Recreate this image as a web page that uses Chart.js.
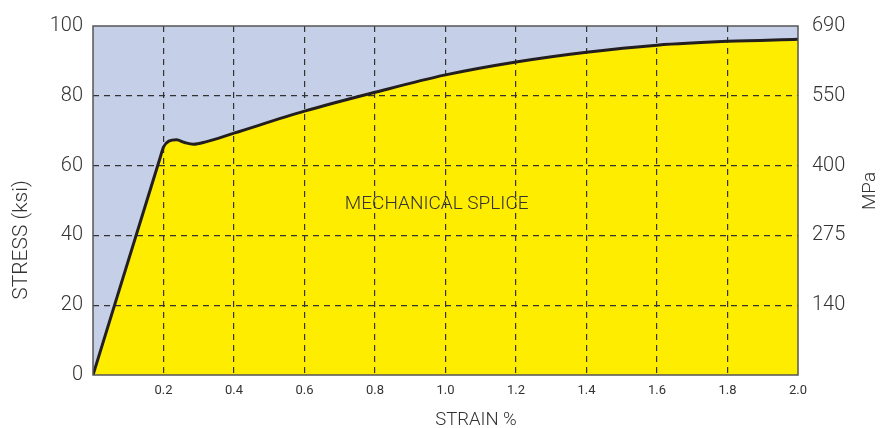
<!DOCTYPE html>
<html>
<head>
<meta charset="utf-8">
<script src="https://cdn.jsdelivr.net/npm/chart.js@4/dist/chart.umd.min.js"></script>
<style>
  html, body { margin: 0; padding: 0; background: #fff; }
  #wrap { width: 881px; height: 428px; }
</style>
</head>
<body>
<div id="wrap"><canvas id="chart_splice" width="881" height="428"></canvas></div>
<script>
// strain (%) and stress (ksi)
const strain = [0, 0.19, 0.2, 0.215, 0.237, 0.26, 0.285, 0.32, 0.4, 0.6, 0.8, 1.0, 1.2, 1.4, 1.6, 1.8, 2.0];
const stress = [0, 62.1, 65.3, 67.0, 67.4, 66.6, 66.1, 66.8, 69.3, 75.6, 81.0, 86.0, 89.7, 92.5, 94.5, 95.6, 96.2];
// right axis labels (MPa) at the ksi grid values
const ksiTicks = [20, 40, 60, 80, 100];
const mpaLabels = ['140', '275', '400', '550', '690'];

const FONT = 'Roboto, "DejaVu Sans", sans-serif';
const TEXT = '#333333';

const points = strain.map((x, i) => ({ x: x, y: stress[i] }));

const plotDecor = {
    id: 'plotDecor',
    beforeDatasetsDraw(chart) {
        const { ctx, chartArea: a } = chart;
        ctx.save();
        ctx.fillStyle = '#c5cfe7';
        ctx.fillRect(a.left, a.top, a.right - a.left, a.bottom - a.top);
        ctx.restore();
    },
    afterDatasetDraw(chart, args) {
        // put the dashed grid back over the yellow fill
        if (args.index !== 0) return;
        chart.scales.x.drawGrid(chart.chartArea);
        chart.scales.y.drawGrid(chart.chartArea);
    },
    afterDraw(chart) {
        const { ctx, chartArea: a, scales } = chart;
        ctx.save();
        ctx.strokeStyle = '#555';
        ctx.lineWidth = 1.5;
        ctx.strokeRect(a.left, a.top, a.right - a.left, a.bottom - a.top);

        ctx.fillStyle = TEXT;
        ctx.textAlign = 'center';
        ctx.textBaseline = 'middle';
        ctx.font = '300 19px ' + FONT;
        ctx.fillText('MECHANICAL SPLICE', scales.x.getPixelForValue(0.975), scales.y.getPixelForValue(48.8));

        ctx.font = '300 18.5px ' + FONT;
        ctx.fillText('STRAIN %', 476, 420);

        ctx.save();
        ctx.translate(22, 240);
        ctx.rotate(-Math.PI / 2);
        ctx.font = '300 21px ' + FONT;
        ctx.fillText('STRESS (ksi)', 0, 0);
        ctx.restore();

        ctx.save();
        ctx.translate(870, 191);
        ctx.rotate(-Math.PI / 2);
        ctx.font = '300 19px ' + FONT;
        ctx.fillText('MPa', 0, 0);
        ctx.restore();
        ctx.restore();
    }
};

function gridColor(lo, hi) {
    return ctx => (ctx.tick && (ctx.tick.value === lo || ctx.tick.value === hi)) ? 'rgba(0,0,0,0)' : '#333';
}

new Chart(document.getElementById('chart_splice'), {
    type: 'line',
    data: {
        datasets: [
            {
                data: points,
                fill: 'origin',
                backgroundColor: '#ffed00',
                borderWidth: 0,
                pointRadius: 0,
                cubicInterpolationMode: 'monotone',
                order: 2
            },
            {
                data: points,
                fill: false,
                borderColor: '#231f20',
                borderWidth: 3,
                pointRadius: 0,
                cubicInterpolationMode: 'monotone',
                order: 1
            }
        ]
    },
    options: {
        responsive: false,
        animation: false,
        events: [],
        layout: { padding: { top: 26, left: 0, right: 0, bottom: 0 } },
        plugins: {
            legend: { display: false },
            tooltip: { enabled: false }
        },
        scales: {
            x: {
                type: 'linear',
                min: 0,
                max: 2,
                afterFit: s => { s.height = 53; },
                border: { display: false, dash: [6, 5] },
                grid: { color: gridColor(0, 2), lineWidth: 1.2, drawTicks: false },
                ticks: {
                    stepSize: 0.2,
                    padding: 8,
                    color: TEXT,
                    font: { family: FONT, size: 13 },
                    callback: v => v === 0 ? '' : v.toFixed(1)
                }
            },
            y: {
                min: 0,
                max: 100,
                afterFit: s => { s.width = 93; },
                border: { display: false, dash: [6, 5] },
                grid: { color: gridColor(0, 100), lineWidth: 1.2, drawTicks: false },
                ticks: {
                    stepSize: 20,
                    padding: 10,
                    color: TEXT,
                    font: { family: FONT, size: 20, weight: '300' }
                }
            },
            y2: {
                position: 'right',
                min: 0,
                max: 100,
                afterFit: s => { s.width = 83; },
                border: { display: false },
                grid: { display: false, drawTicks: false },
                afterBuildTicks: s => { s.ticks = ksiTicks.map(v => ({ value: v })); },
                ticks: {
                    padding: 14,
                    color: TEXT,
                    font: { family: FONT, size: 20, weight: '300' },
                    callback: v => mpaLabels[ksiTicks.indexOf(v)] || ''
                }
            }
        }
    },
    plugins: [plotDecor]
});
</script>
</body>
</html>
